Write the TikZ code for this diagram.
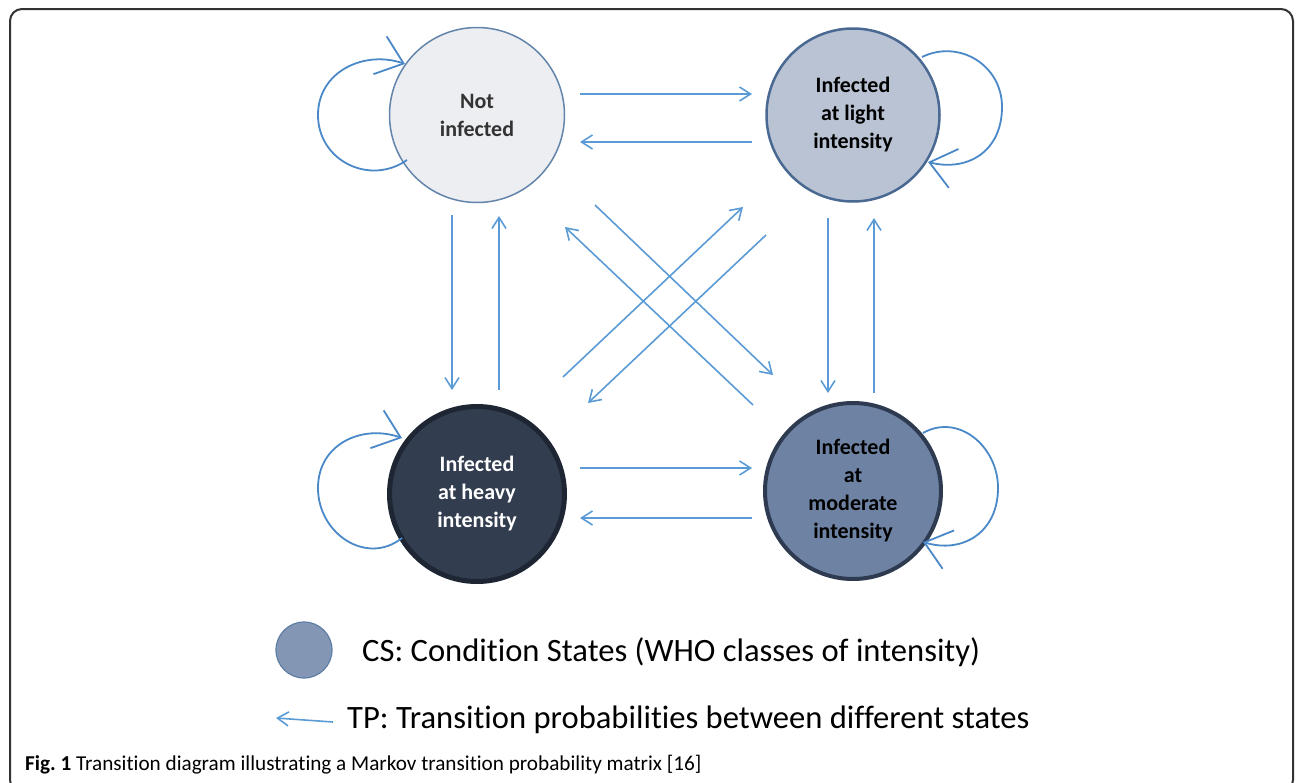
\documentclass[tikz,border=0pt]{standalone}
\usepackage{fontspec}
\setmainfont{Carlito}[Ligatures=NoCommon]
\usetikzlibrary{arrows.meta,calc,positioning}

\definecolor{tpblue}{HTML}{5B9BD5}
\definecolor{loopblue}{HTML}{4A88C8}
\definecolor{notfill}{HTML}{EDEEF2}
\definecolor{notline}{HTML}{6384AB}
\definecolor{lightfill}{HTML}{B9C3D4}
\definecolor{lightline}{HTML}{4A6992}
\definecolor{heavyfill}{HTML}{323D50}
\definecolor{heavyline}{HTML}{1E2634}
\definecolor{modfill}{HTML}{6E83A4}
\definecolor{modline}{HTML}{2E3A4F}
\definecolor{legfill}{HTML}{8397B5}
\definecolor{legline}{HTML}{5E7DA5}

\begin{document}
\frenchspacing
\begin{tikzpicture}[x=1pt,y=-1pt,
  >={Straight Barb[length=11pt,width=14pt]},
  state/.style={circle,inner sep=0pt,align=center,
    font=\fontsize{22}{28}\selectfont\bfseries},
  tp/.style={->,tpblue,line width=1.6pt},
  selfloop/.style={-{Straight Barb[length=25pt,width=40pt]},loopblue,line width=1.8pt},
  legtext/.style={inner sep=0pt,font=\fontsize{32.6}{38}\selectfont}]
  \useasboundingbox (0,0) rectangle (1296,782);
  \clip (0,0) rectangle (1296,782);

  % Frame
  \draw[black!80,line width=2pt,rounded corners=12pt] (10,9) rectangle (1293,792);

  % States
  \node[state,minimum size=175pt,fill=notfill,draw=notline,line width=1.5pt,text=black!80]
    (notinf) at (477,115) {Not\\infected};
  \node[state,minimum size=173pt,fill=lightfill,draw=lightline,line width=2.5pt]
    (light) at (853,115) {Infected\\at light\\intensity};
  \node[state,minimum size=175pt,fill=heavyfill,draw=heavyline,line width=5pt,text=white]
    (heavy) at (477,494) {Infected\\at heavy\\intensity};
  \node[state,minimum size=176pt,fill=modfill,draw=modline,line width=4pt]
    (moder) at (853,491) {Infected\\at\\moderate\\intensity};

  % Horizontal transitions
  \draw[tp] ($(notinf)+(103,-21)$) -- ($(light)+(-101,-21)$);
  \draw[tp] ($(light)+(-101,27)$) -- ($(notinf)+(103,27)$);
  \draw[tp] ($(heavy)+(103,-26)$) -- ($(moder)+(-101,-23)$);
  \draw[tp] ($(moder)+(-101,27)$) -- ($(heavy)+(103,24)$);

  % Vertical transitions
  \draw[tp] ($(notinf)+(-25,100)$) -- ($(heavy)+(-25,-104)$);
  \draw[tp] ($(heavy)+(22,-104)$) -- ($(notinf)+(22,101)$);
  \draw[tp] ($(light)+(-25,103)$) -- ($(moder)+(-25,-98)$);
  \draw[tp] ($(moder)+(21,-98)$) -- ($(light)+(21,103)$);

  % Diagonal transitions
  \draw[tp] ($(notinf)+(118,90)$) -- ($(moder)+(-80,-116)$);
  \draw[tp] ($(moder)+(-100,-86)$) -- ($(notinf)+(88,112)$);
  \draw[tp] ($(heavy)+(86,-117)$) -- ($(light)+(-110,92)$);
  \draw[tp] ($(light)+(-87,120)$) -- ($(heavy)+(111,-91)$);

  % Self loops
  \draw[selfloop] ($(notinf)+(-70,45)$) .. controls +(-37,26) and +(0,46) .. ($(notinf)+(-159,0)$)
    .. controls +(0,-44) and +(-40,-14) .. ($(notinf)+(-72,-51)$);
  \draw[selfloop] ($(heavy)+(-75,44)$) .. controls +(-35,28) and +(0,46) .. ($(heavy)+(-159,-6)$)
    .. controls +(0,-44) and +(-40,-14) .. ($(heavy)+(-75,-56)$);
  \draw[selfloop] ($(light)+(69,-58)$) .. controls +(37,-18) and +(0,-42) .. ($(light)+(149,-8)$)
    .. controls +(0,44) and +(40,10) .. ($(light)+(75,47)$);
  \draw[selfloop] ($(moder)+(70,-58)$) .. controls +(35,-20) and +(0,-42) .. ($(moder)+(145,-3)$)
    .. controls +(0,44) and +(40,12) .. ($(moder)+(70,51)$);

  % Legend
  \node[circle,minimum size=56pt,inner sep=0pt,fill=legfill,draw=legline,line width=1.2pt]
    (cs) at (304,650) {};
  \node[legtext,anchor=west] (cstext) at (362,652) {CS: Condition States (WHO classes of intensity)};
  \node[legtext,anchor=west] (tptext) at (347,720) {TP: Transition probabilities between different states};
  \coordinate (tpend) at (276,718);
  \draw[tp] ([xshift=-14pt,yshift=-2pt]tptext.west) -- (tpend);

  % Caption
  \node[anchor=base west,inner sep=0pt,font=\fontsize{21.2}{25}\selectfont]
    (caption) at (25,770) {\textbf{Fig. 1} Transition diagram illustrating a Markov transition probability matrix [16]};
\end{tikzpicture}
\end{document}
